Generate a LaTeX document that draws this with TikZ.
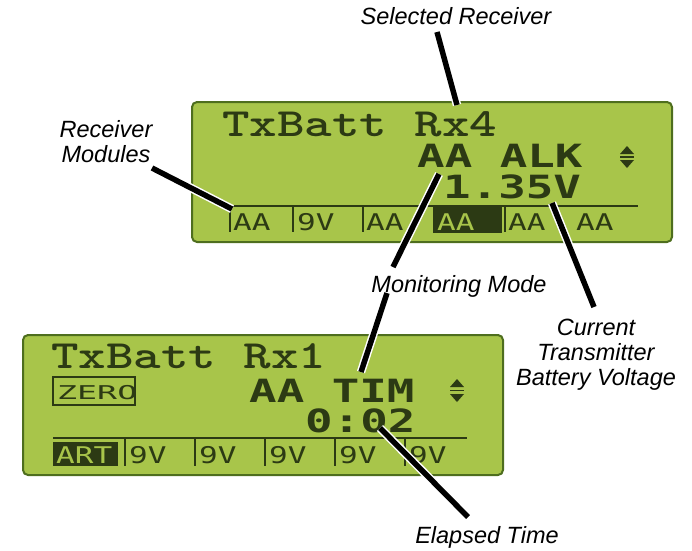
\documentclass[tikz,border=0pt]{standalone}
\usepackage{fontspec}
\setmainfont{Liberation Sans}
\newfontfamily\lcdtt{lmmonolt10-bold.otf}[FakeStretch=1.31]
\newfontfamily\lcdsans{DejaVu Sans Mono}[FakeStretch=1.35]
\newfontfamily\lcdmid{DejaVu Sans Mono}[FakeStretch=1.43]
\newfontfamily\lcdwide{DejaVu Sans Mono}[FakeStretch=1.75]
\definecolor{lcdgreen}{HTML}{A8C54A}
\definecolor{lcdedge}{HTML}{4E6E1E}
\definecolor{lcdink}{HTML}{2C3A14}
\begin{document}
\begin{tikzpicture}[x=1pt,y=-1pt,
  lcd/.style={draw=lcdedge, line width=2pt, fill=lcdgreen, rounded corners=5pt},
  ink/.style={text=lcdink, inner sep=0pt, anchor=base west, text depth=0pt},
  rowbig/.style={ink, font=\lcdtt\fontsize{40}{40}\selectfont},
  rowmid/.style={ink, font=\lcdmid\bfseries\fontsize{32}{32}\selectfont},
  tabtext/.style={ink, font=\lcdsans\fontsize{23}{23}\selectfont},
  zerotext/.style={ink, font=\lcdwide\fontsize{19}{19}\selectfont},
  inv/.style={fill=lcdink},
  rule/.style={draw=lcdink, line width=2pt},
  calltext/.style={font=\itshape\fontsize{23.5}{25}\selectfont, align=center, inner sep=0pt, anchor=base},
  leader/.style={line width=5.5pt, preaction={draw=white, line width=8.5pt}},
]
\useasboundingbox (0,0) rectangle (692,550);

% ---------- upper display ----------
\draw[lcd] (192,102) rectangle (672,242);
\node[rowbig] (u1) at (222,136) {TxBatt Rx4};
\node[rowmid] (u2) at (417,167) {AA ALK};
\node[rowmid] (u3) at (443,198) {1.35V};
\fill[lcdink] (620,154) -- (634,154) -- (627,146) -- cycle;
\fill[lcdink] (620,160) -- (634,160) -- (627,168) -- cycle;
\draw[rule, line width=1.5pt] (620,157) -- (634,157);
\draw[rule] (228,206) -- (638,206);
\foreach \x in {230,293,363,505} \draw[rule] (\x,206) -- (\x,232);
\fill[inv] (433,207) rectangle (502,233);
\node[tabtext] (ut1) at (233,230) {AA};
\node[tabtext] (ut2) at (297,230) {9V};
\node[tabtext] (ut3) at (366,230) {AA};
\node[tabtext, text=lcdgreen] (ut4) at (437,230) {AA};
\node[tabtext] (ut5) at (508,230) {AA};
\node[tabtext] (ut6) at (576,230) {AA};

% ---------- lower display ----------
\draw[lcd] (23,335) rectangle (503,475);
\node[rowbig] (l1) at (51,368) {TxBatt Rx1};
\draw[rule] (53,377) rectangle (135,405);
\node[zerotext] (lz) at (57,399) {ZERO};
\node[rowmid] (l2) at (249,402) {AA TIM};
\node[rowmid] (l3) at (305,432) {0:02};
\fill[lcdink] (450,387) -- (464,387) -- (457,379) -- cycle;
\fill[lcdink] (450,394) -- (464,394) -- (457,402) -- cycle;
\draw[rule, line width=1.5pt] (450,390.5) -- (464,390.5);
\draw[rule] (53,438) -- (467,438);
\fill[inv] (53,442) rectangle (118,466);
\foreach \x in {125,195,265,335,405} \draw[rule] (\x,438) -- (\x,466);
\node[tabtext, text=lcdgreen] (lt1) at (56,463) {ART};
\node[tabtext] (lt2) at (129,463) {9V};
\node[tabtext] (lt3) at (199,463) {9V};
\node[tabtext] (lt4) at (269,463) {9V};
\node[tabtext] (lt5) at (339,463) {9V};
\node[tabtext] (lt6) at (409,463) {9V};

% ---------- captions (base = last line) ----------
\node[calltext] (selrx) at (456,24) {Selected Receiver};
\node[calltext] (rxmod) at (106,162) {Receiver\\Modules};
\node[calltext] (monmode) at (459,292) {Monitoring Mode};
\node[calltext] (txvolt) at (596,385) {Current\\Transmitter\\Battery Voltage};
\node[calltext] (elapsed) at (487,543) {Elapsed Time};

% ---------- leader ends ----------
\coordinate (selrx-a) at (437,32);   \coordinate (selrx-b) at (457,105);
\coordinate (rxmod-a) at (152,168);  \coordinate (rxmod-b) at (232,209);
\coordinate (mon-a) at (393,267);    \coordinate (mon-b) at (439,174);
\coordinate (mon-c) at (387,293);    \coordinate (mon-d) at (361,372);
\coordinate (volt-a) at (594,307);   \coordinate (volt-b) at (552,203);
\coordinate (time-a) at (468,517);   \coordinate (time-b) at (380,428);

\draw[leader] (selrx-a) -- (selrx-b);
\draw[leader] (rxmod-a) -- (rxmod-b);
\draw[leader] (mon-a) -- (mon-b);
\draw[leader] (mon-c) -- (mon-d);
\draw[leader] (volt-a) -- (volt-b);
\draw[leader] (time-a) -- (time-b);
\end{tikzpicture}
\end{document}
